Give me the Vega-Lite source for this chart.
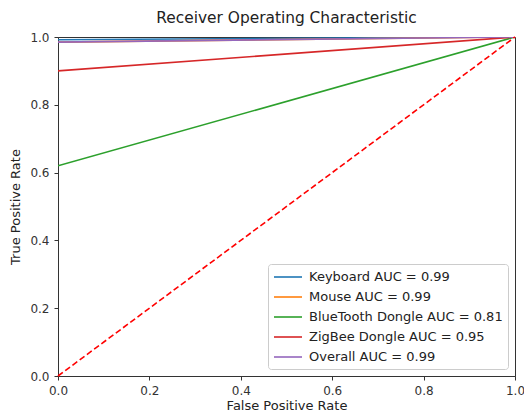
{
  "$schema": "https://vega.github.io/schema/vega-lite/v6.json",
  "autosize": "none",
  "width": 457,
  "height": 339,
  "padding": {"left": 58, "top": 37, "right": 9, "bottom": 39},
  "background": "white",
  "title": {"text": "Receiver Operating Characteristic", "font": "DejaVu Sans", "fontSize": 15.4, "fontWeight": "normal", "color": "#222", "offset": 5},
  "config": {
    "view": {"stroke": "#333", "strokeWidth": 1},
    "axis": {"labelFont": "DejaVu Sans", "titleFont": "DejaVu Sans", "labelFontSize": 12, "titleFontSize": 13, "titleFontWeight": "normal", "labelColor": "#333", "titleColor": "#222", "grid": false, "domainColor": "#333", "tickColor": "#333", "tickSize": 4, "zindex": 1, "labelFlush": false}
  },
  "data": {"values": [
    {"series": "Keyboard AUC = 0.99", "fpr": 0, "tpr": 0.992, "k": 1},
    {"series": "Keyboard AUC = 0.99", "fpr": 1, "tpr": 1, "k": 2},
    {"series": "Mouse AUC = 0.99", "fpr": 0, "tpr": 0.985, "k": 1},
    {"series": "Mouse AUC = 0.99", "fpr": 1, "tpr": 1, "k": 2},
    {"series": "BlueTooth Dongle AUC = 0.81", "fpr": 0, "tpr": 0.62, "k": 1},
    {"series": "BlueTooth Dongle AUC = 0.81", "fpr": 1, "tpr": 1, "k": 2},
    {"series": "ZigBee Dongle AUC = 0.95", "fpr": 0, "tpr": 0.9, "k": 1},
    {"series": "ZigBee Dongle AUC = 0.95", "fpr": 1, "tpr": 1, "k": 2},
    {"series": "Overall AUC = 0.99", "fpr": 0, "tpr": 0.985, "k": 1},
    {"series": "Overall AUC = 0.99", "fpr": 1, "tpr": 1, "k": 2}
  ]},
  "layer": [
    {
      "mark": {"type": "line", "strokeWidth": 1.6, "clip": true},
      "encoding": {
        "x": {"field": "fpr", "type": "quantitative", "scale": {"domain": [0, 1], "nice": false, "zero": false}, "axis": {"title": "False Positive Rate", "values": [0, 0.2, 0.4, 0.6, 0.8, 1], "format": ".1f", "titlePadding": 3, "labelPadding": 5}},
        "y": {"field": "tpr", "type": "quantitative", "scale": {"domain": [0, 1], "nice": false, "zero": false}, "axis": {"title": "True Positive Rate", "values": [0, 0.2, 0.4, 0.6, 0.8, 1], "format": ".1f", "titlePadding": 7, "labelPadding": 5}},
        "color": {"field": "series", "type": "nominal",
          "scale": {"domain": ["Keyboard AUC = 0.99", "Mouse AUC = 0.99", "BlueTooth Dongle AUC = 0.81", "ZigBee Dongle AUC = 0.95", "Overall AUC = 0.99"], "range": ["#1f77b4", "#ff7f0e", "#2ca02c", "#d62728", "#9467bd"]},
          "sort": ["Keyboard AUC = 0.99", "Mouse AUC = 0.99", "BlueTooth Dongle AUC = 0.81", "ZigBee Dongle AUC = 0.95", "Overall AUC = 0.99"],
          "legend": {"title": null, "orient": "bottom-right", "offset": 7, "symbolType": "M-2,0H2", "symbolStrokeWidth": 1.6, "symbolSize": 196, "symbolOffset": 7, "labelFont": "DejaVu Sans", "labelFontSize": 13, "labelColor": "#222", "labelLimit": 400, "rowPadding": 5, "padding": 5, "strokeColor": "#ccc", "fillColor": "white", "cornerRadius": 3, "labelOffset": 13}},
        "order": {"field": "k", "type": "quantitative"}
      }
    },
    {
      "data": {"values": [{"fpr": 0, "tpr": 0}, {"fpr": 1, "tpr": 1}]},
      "mark": {"type": "line", "color": "#ff0000", "strokeDash": [6, 3], "strokeWidth": 1.6},
      "encoding": {
        "x": {"field": "fpr", "type": "quantitative"},
        "y": {"field": "tpr", "type": "quantitative"}
      }
    }
  ]
}
